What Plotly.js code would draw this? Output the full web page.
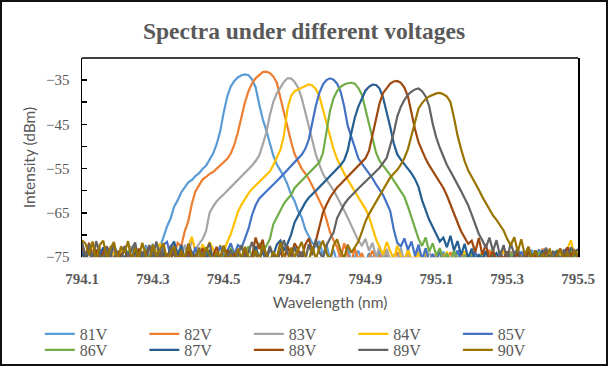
<!DOCTYPE html>
<html>
<head>
<meta charset="utf-8">
<script src="https://cdn.plot.ly/plotly-3.0.1.min.js"></script>
<style>
html,body{margin:0;padding:0;background:#fff;}
#wrap{position:relative;width:608px;height:366px;}
#chart{width:608px;height:366px;}
#frame{position:absolute;left:0;top:0;width:608px;height:366px;box-sizing:border-box;border:2px solid #111;pointer-events:none;}
</style>
</head>
<body>
<div id="wrap"><div id="chart"></div><div id="frame"></div></div>
<script>
// Wavelength grid (nm), 0.01 nm sampling
const wavelength = [
794.10,794.11,794.12,794.13,794.14,794.15,794.16,794.17,794.18,794.19,
794.20,794.21,794.22,794.23,794.24,794.25,794.26,794.27,794.28,794.29,
794.30,794.31,794.32,794.33,794.34,794.35,794.36,794.37,794.38,794.39,
794.40,794.41,794.42,794.43,794.44,794.45,794.46,794.47,794.48,794.49,
794.50,794.51,794.52,794.53,794.54,794.55,794.56,794.57,794.58,794.59,
794.60,794.61,794.62,794.63,794.64,794.65,794.66,794.67,794.68,794.69,
794.70,794.71,794.72,794.73,794.74,794.75,794.76,794.77,794.78,794.79,
794.80,794.81,794.82,794.83,794.84,794.85,794.86,794.87,794.88,794.89,
794.90,794.91,794.92,794.93,794.94,794.95,794.96,794.97,794.98,794.99,
795.00,795.01,795.02,795.03,795.04,795.05,795.06,795.07,795.08,795.09,
795.10,795.11,795.12,795.13,795.14,795.15,795.16,795.17,795.18,795.19,
795.20,795.21,795.22,795.23,795.24,795.25,795.26,795.27,795.28,795.29,
795.30,795.31,795.32,795.33,795.34,795.35,795.36,795.37,795.38,795.39,
795.40,795.41,795.42,795.43,795.44,795.45,795.46,795.47,795.48,795.49,
795.50];

const seriesNames = ["81V","82V","83V","84V","85V","86V","87V","88V","89V","90V"];
const seriesColors = ["#5B9BD5","#ED7D31","#A5A5A5","#FFC000","#4472C4","#70AD47","#255E91","#9E480E","#636363","#997300"];

// Intensity (dBm) per voltage
const v81 = [
-73.2,-75.8,-72.4,-74.9,-76.2,-73.6,-75.1,-72.9,-76.0,-74.3,
-75.6,-73.1,-76.3,-74.7,-72.8,-75.9,-73.8,-76.1,-72.3,-74.6,
-72.0,-75.2,-73.0,
-70.5,-68.1,-66.3,-63.6,-62.2,-60.4,-59.3,-58.1,-57.6,-56.7,
-56.1,-55.1,-54.4,-52.9,-51.6,-49.5,-46.6,-42.3,-38.7,-36.4,
-35.2,-34.4,-33.9,-33.7,-33.9,-34.8,-36.6,-40.4,-43.8,-46.3,
-49.3,-52.1,-54.1,-55.4,-56.8,-58.6,-60.9,-62.3,-64.6,-66.0,
-68.7,-70.3,-71.8,
-72.6,-71.4,-74.8,-72.1,-75.6,-73.4,-76.1,-74.2,-75.7,-73.0,
-76.2,-74.9,-73.6,-75.8,-76.4,-74.1,-75.3,-76.0,-73.7,-75.9,
-74.5,-76.3,-75.0,-73.9,-76.1,-75.4,-74.0,-76.2,-75.7,-73.5,
-76.0,-74.8,-75.5,-76.3,-74.4,-75.9,-73.8,-76.1,-75.2,-74.6,
-76.4,-75.0,-73.7,-75.8,-76.2,-74.3,-75.6,-76.0,-74.9,-73.6,
-75.4,-76.3,-74.7,-75.9,-76.1,-73.9,-75.3,-76.4,-74.5,-75.7,
-76.0,-73.4,-75.5,-76.2,-74.8,-75.1,-76.3,-73.8,-75.6,-74.2,
-76.1,-75.0,-73.3,-75.8,-74.6];
const v82 = [
-72.5,-74.8,-76.1,-73.3,-75.5,-72.8,-76.0,-74.2,-75.7,-73.6,
-76.3,-74.9,-72.7,-75.8,-76.2,-73.9,-75.1,-76.4,-74.0,-75.6,
-72.9,-76.0,-74.5,-73.2,-75.9,-72.4,-74.7,-71.8,-72.6,
-69.2,-66.9,-63.0,-60.2,-58.8,-57.5,-56.9,-56.2,-55.8,-55.1,
-54.2,-53.5,-52.8,-51.6,-49.6,-46.8,-43.4,-40.0,-37.5,-35.7,
-34.6,-33.8,-33.2,-33.1,-33.4,-34.2,-35.6,-39.0,-42.5,-45.3,
-48.9,-51.7,-53.5,-55.0,-56.1,-57.3,-58.9,-60.7,-62.3,-63.9,
-66.5,-69.4,-71.2,
-72.8,-75.4,-71.9,-74.6,-76.2,-73.0,-75.7,-74.1,-76.3,-75.0,
-73.6,-76.1,-74.7,-75.9,-73.2,-76.4,-75.3,-74.0,-76.0,-75.6,
-73.8,-76.2,-74.9,-75.5,-76.3,-73.5,-75.8,-74.4,-76.1,-75.2,
-74.6,-76.0,-73.9,-75.7,-76.4,-74.3,-75.1,-76.2,-73.7,-75.9,
-74.8,-76.3,-75.4,-73.4,-76.0,-75.0,-74.2,-76.1,-75.6,-73.8,
-75.3,-76.2,-74.5,-75.9,-73.6,-76.4,-74.9,-75.5,-73.1,-76.0,
-74.7,-75.8,-73.9,-76.3,-74.1,-72.9,-75.2,-76.1,-74.4];
const v83 = [
-73.4,-75.9,-72.7,-74.8,-76.2,-73.1,-75.4,-76.0,-72.6,-74.9,
-75.7,-73.3,-76.3,-74.4,-72.5,-75.8,-76.1,-73.7,-75.2,-72.9,
-76.0,-74.6,-73.0,-75.6,-76.2,-72.8,-74.3,-73.5,-75.9,-72.2,
-74.7,-71.0,-73.4,-72.1,
-71.0,-69.2,-65.0,-63.6,-62.4,-61.6,-60.7,-60.0,-59.2,-58.4,
-57.6,-56.8,-55.9,-55.1,-54.3,-53.3,-52.1,-49.6,-46.9,-43.0,
-39.9,-38.0,-36.6,-35.4,-34.6,-34.6,-35.4,-36.7,-39.0,-42.3,
-45.6,-48.9,-51.8,-54.1,-56.2,-57.5,-58.6,-59.9,-61.4,-62.8,
-64.5,-66.1,-67.9,-69.6,-71.3,
-72.4,-70.9,-73.6,-71.8,-74.9,-72.6,-75.5,-73.2,-76.1,-74.4,
-75.8,-73.0,-76.2,-74.7,-75.3,-76.0,-73.8,-75.6,-76.3,-74.1,
-75.1,-76.2,-73.5,-75.9,-74.6,-76.1,-75.4,-73.9,-76.3,-74.8,
-75.7,-76.0,-74.2,-75.2,-76.4,-73.7,-75.8,-74.5,-76.1,-75.0,
-73.6,-76.2,-75.5,-74.3,-75.9,-76.3,-73.8,-75.1,-76.0,-74.6,
-75.7,-73.4,-76.1,-74.9,-75.3,-76.2,-74.0,-75.6,-73.2,-76.0,
-74.7,-75.4];
const v84 = [
-73.8,-75.3,-72.4,-76.0,-74.6,-73.1,-75.8,-76.2,-72.9,-74.5,
-75.9,-73.6,-76.1,-74.2,-75.4,-72.7,-76.3,-74.8,-73.3,-75.7,
-76.0,-73.9,-71.9,-74.6,-76.2,-75.1,-73.0,-75.8,-74.3,-76.1,
-72.6,-70.4,-73.5,-75.6,-72.1,-74.0,-71.6,-73.2,-75.4,-72.3,
-73.8,
-71.6,-69.8,-67.4,-64.8,-63.2,-61.8,-60.6,-59.6,-58.8,-58.0,
-57.3,-56.5,-55.7,-54.2,-52.5,-50.8,-47.5,-41.5,-38.6,-37.5,
-37.1,-36.7,-36.3,-36.0,-36.2,-37.0,-38.6,-41.5,-44.8,-47.8,
-50.6,-52.8,-54.6,-56.1,-57.5,-58.7,-60.2,-61.5,-62.8,-64.1,
-65.8,-68.3,-71.0,
-72.8,-74.5,-71.6,-73.9,-75.7,-72.4,-74.8,-76.1,-73.3,-75.5,
-76.2,-74.0,-75.8,-73.6,-76.3,-75.1,-74.4,-76.0,-75.6,-73.8,
-76.1,-74.9,-75.3,-76.4,-73.7,-75.9,-74.6,-76.2,-75.0,-73.9,
-76.0,-75.4,-74.3,-76.3,-75.7,-73.5,-75.2,-76.1,-74.8,-75.9,
-76.2,-74.1,-75.5,-76.0,-73.6,-75.8,-74.7,-76.3,-75.1,-73.8,
-75.6,-74.5,-76.1,-73.2,-71.2,-74.9,-73.4];
const v85 = [
-73.5,-75.8,-72.9,-74.6,-76.2,-73.2,-75.4,-76.0,-74.1,-72.7,
-75.9,-74.3,-76.3,-73.8,-75.2,-72.6,-76.1,-74.8,-73.4,-75.7,
-76.2,-74.0,-75.5,-72.2,-71.6,-74.7,-72.4,-75.3,-73.1,-76.0,
-74.5,-75.8,-72.8,-76.1,-74.2,-73.6,-75.6,-76.3,-74.9,-72.5,
-75.0,-73.7,-71.9,-74.4,-72.3,-73.0,
-71.0,-68.6,-65.5,-63.3,-61.8,-60.9,-60.2,-59.4,-58.7,-57.8,
-57.0,-56.1,-55.2,-54.3,-53.4,-52.7,-51.9,-50.6,-48.5,-44.3,
-40.8,-37.9,-36.0,-35.0,-34.6,-34.9,-35.8,-37.6,-40.9,-45.3,
-47.8,-50.7,-52.7,-53.9,-55.0,-56.1,-57.2,-58.6,-59.9,-61.0,
-62.8,-64.6,-68.8,-71.8,
-72.6,-70.8,-73.4,-71.5,-74.7,-72.2,-75.6,-73.0,-76.1,-74.3,
-75.8,-73.7,-76.2,-74.9,-75.4,-76.0,-73.5,-75.9,-74.6,-76.3,
-75.1,-73.9,-76.1,-74.8,-75.5,-76.2,-74.0,-75.7,-73.6,-76.0,
-75.3,-74.4,-76.3,-75.8,-73.8,-75.0,-76.1,-74.7,-75.6,-73.3,
-76.2,-74.5,-75.9,-73.7,-76.0,-75.2,-74.1,-72.9,-75.4,-73.9,
-74.8];
const v86 = [
-74.2,-76.0,-73.5,-75.6,-76.3,-74.8,-75.2,-73.9,-76.1,-75.4,
-74.0,-76.2,-75.7,-73.6,-75.0,-76.3,-74.5,-75.8,-73.2,-76.0,
-74.9,-75.5,-73.8,-76.2,-75.1,-74.3,-76.1,-75.6,-73.4,-75.9,
-76.3,-74.6,-75.3,-73.7,-76.0,-74.4,-75.8,-76.2,-73.9,-75.1,
-74.7,-76.1,-72.9,-75.4,-73.5,-76.0,-74.1,-72.6,-75.2,-73.3,
-71.8,-74.0,-72.4,
-71.0,-67.6,-65.9,-64.3,-62.9,-61.9,-61.0,-59.4,-58.6,-57.8,
-57.0,-56.2,-55.4,-54.6,-53.6,-51.5,-46.8,-42.0,-39.1,-37.5,
-36.5,-36.0,-35.7,-35.6,-35.8,-36.8,-38.3,-41.6,-45.5,-48.6,
-51.4,-53.3,-54.5,-55.4,-56.5,-57.7,-58.9,-60.1,-61.4,-63.6,
-66.2,-68.6,-70.9,
-72.5,-70.6,-73.8,-71.9,-74.6,-73.0,-75.7,-74.2,-76.1,-73.5,
-75.4,-76.2,-74.8,-75.9,-73.7,-76.0,-75.2,-74.3,-76.3,-75.6,
-73.9,-76.1,-74.7,-75.5,-76.2,-74.0,-75.8,-73.6,-76.0,-75.1,
-74.5,-76.3,-75.7,-73.8,-75.3,-76.1,-74.4,-75.9,-73.4,-76.2,
-74.9,-75.0,-73.2,-75.6,-74.1];
const v87 = [
-74.0,-75.7,-73.3,-76.2,-74.6,-75.1,-72.8,-76.0,-74.9,-75.5,
-73.6,-76.3,-75.0,-74.2,-76.1,-73.7,-75.8,-74.5,-76.2,-75.3,
-73.9,-75.6,-76.0,-74.3,-75.9,-72.7,-71.5,-74.8,-72.3,-75.4,
-76.1,-73.8,-75.2,-76.3,-74.7,-75.7,-73.4,-76.0,-74.1,-75.5,
-76.2,-73.6,-75.8,-74.4,-76.1,-75.0,-73.2,-75.6,-74.9,-72.6,
-75.3,-73.9,-76.0,-73.1,-74.6,-72.2,-71.3,-73.5,-72.0,
-70.0,-67.2,-65.6,-64.0,-62.7,-61.6,-60.7,-60.0,-59.2,-58.4,
-57.5,-56.7,-55.9,-55.1,-54.2,-53.1,-50.9,-47.0,-43.5,-41.0,
-39.0,-37.4,-36.5,-36.0,-36.1,-36.9,-39.0,-42.0,-45.6,-49.3,
-51.8,-53.0,-54.0,-55.0,-56.1,-57.4,-59.2,-62.2,-64.3,-66.6,
-68.2,-70.0,-71.5,
-70.6,-72.8,-70.2,-73.5,-71.4,-74.6,-72.0,-75.3,-73.1,-76.0,
-74.4,-75.7,-73.6,-76.2,-75.0,-74.1,-76.1,-75.5,-73.8,-76.3,
-74.7,-75.2,-76.0,-73.9,-75.8,-74.3,-76.2,-75.4,-73.5,-76.1,
-74.8,-75.6,-73.7,-76.0,-75.1,-74.5,-76.3,-73.9,-75.3];
const v88 = [
-72.4,-74.9,-71.8,-75.6,-73.3,-76.1,-74.0,-72.6,-75.4,-76.2,
-73.7,-75.0,-72.9,-76.0,-74.5,-75.8,-73.1,-76.3,-74.8,-72.3,
-75.5,-76.1,-73.9,-75.2,-74.4,-76.0,-72.8,-75.7,-74.1,-76.2,
-73.5,-75.9,-74.7,-76.3,-73.0,-75.3,-76.0,-74.6,-72.7,-75.8,
-76.2,-73.4,-75.1,-74.3,-76.1,-75.6,-73.8,-76.0,-74.9,-70.6,
-73.2,-71.1,-75.4,-76.2,-74.0,-75.7,-73.6,-76.1,-72.5,-74.8,
-71.9,-73.3,-75.5,-72.2,-70.8,-73.6,-71.4,
-68.0,-65.0,-63.2,-61.6,-60.4,-59.3,-58.5,-57.7,-56.8,-56.0,
-55.2,-54.4,-53.6,-52.7,-51.0,-47.5,-43.4,-40.2,-37.9,-36.7,
-35.8,-35.3,-35.2,-35.6,-36.7,-38.7,-42.6,-46.1,-49.1,-51.0,
-52.8,-54.3,-55.6,-56.8,-58.0,-59.4,-61.1,-63.3,-65.2,-67.2,
-69.2,-70.5,-72.0,
-71.3,-73.9,-70.7,-74.5,-72.1,-75.6,-73.4,-76.2,-74.7,-75.3,
-73.8,-76.0,-75.1,-74.2,-76.3,-75.7,-73.6,-75.9,-74.5,-76.1,
-75.0,-73.7,-75.8,-76.2,-74.3,-73.1,-75.4,-72.8,-74.6,-73.5,
-75.2];
const v89 = [
-71.6,-74.8,-72.2,-75.9,-71.4,-74.3,-76.1,-72.7,-75.2,-71.9,
-74.6,-76.2,-72.5,-75.0,-73.3,-71.7,-75.6,-73.8,-76.0,-72.4,
-74.9,-71.5,-75.3,-73.6,-76.1,-72.8,-74.5,-76.2,-73.1,-75.7,
-72.0,-74.2,-76.0,-72.9,-75.4,-73.7,-71.8,-75.8,-74.0,-76.3,
-72.6,-75.1,-73.4,-76.0,-74.7,-72.3,-75.5,-73.9,-71.6,-74.4,
-76.1,-73.0,-75.6,-72.5,-74.8,-76.2,-73.5,-71.2,-74.1,-75.9,
-72.7,-75.0,-73.8,-76.0,-72.1,-74.6,-71.0,-73.9,-75.3,-72.4,
-70.8,
-69.5,-66.2,-64.5,-63.1,-62.0,-61.1,-60.3,-59.5,-58.7,-58.0,
-57.2,-56.4,-55.6,-54.8,-53.7,-52.6,-49.8,-46.9,-43.2,-41.0,
-39.5,-38.3,-37.6,-37.1,-36.9,-37.5,-38.7,-40.9,-44.9,-48.0,
-50.3,-52.4,-54.2,-55.6,-57.0,-58.4,-60.1,-61.7,-63.3,-65.4,
-67.5,-69.8,-71.2,
-72.9,-70.6,-73.7,-71.2,-74.8,-72.3,-75.6,-71.8,-74.4,-73.0,
-76.0,-74.6,-72.7,-75.3,-73.5,-76.1,-74.2,-72.9,-75.7,-73.8,
-74.5,-76.2,-73.3,-75.0,-72.8,-74.1,-73.2];
const v90 = [
-71.2,-72.0,-74.6,-71.5,-75.8,-72.3,-71.3,-75.2,-73.0,-71.6,
-75.9,-72.6,-74.1,-71.4,-76.0,-72.9,-75.3,-71.8,-74.5,-76.2,
-72.2,-75.0,-73.4,-71.9,-75.7,-74.0,-72.5,-76.1,-73.6,-75.4,
-72.1,-74.8,-76.0,-73.2,-75.5,-72.8,-74.3,-76.2,-73.9,-75.1,
-72.4,-75.8,-74.6,-76.0,-73.1,-75.3,-72.7,-74.9,-76.1,-73.5,
-75.6,-72.3,-74.2,-76.0,-73.8,-75.2,-71.7,-74.5,-76.2,-72.9,
-75.0,-73.4,-71.6,-74.7,-76.1,-72.6,-75.4,-73.0,-71.3,-74.1,
-75.7,-72.4,-71.0,-73.6,-75.3,-72.2,-74.0,-72.8,
-71.5,-69.3,-67.0,-65.3,-63.9,-62.5,-61.2,-59.9,-58.2,-57.0,
-56.1,-55.3,-54.1,-52.6,-50.6,-47.6,-44.2,-41.4,-40.2,-39.3,
-38.7,-38.3,-38.0,-37.9,-38.2,-38.7,-40.0,-43.5,-47.5,-50.6,
-53.3,-55.4,-56.8,-58.2,-59.8,-61.4,-62.9,-64.4,-65.6,-66.6,
-67.8,-69.0,-70.9,
-72.4,-70.5,-73.8,-71.0,-74.6,-72.7,-75.3,-73.5,-76.0,-74.2,
-75.5,-73.1,-76.1,-74.8,-73.4,-75.7,-74.0,-76.2,-73.6,-75.0];

const yTickVals = [-75,-65,-55,-45,-35];
const xTickVals = [794.1,794.3,794.5,794.7,794.9,795.1,795.3,795.5];
const xTickText = ["794.1","794.3","794.5","794.7","794.9","795.1","795.3","795.5"];

const allSeries = [v81,v82,v83,v84,v85,v86,v87,v88,v89,v90];
const bad = allSeries.map((s,i)=>[seriesNames[i], s.length]).filter(p=>p[1]!==wavelength.length);
if (bad.length) throw new Error("length mismatch: " + JSON.stringify(bad));

const traces = allSeries.map((s,i)=>({
  type:'scatter', mode:'lines', x:wavelength, y:s, name:seriesNames[i],
  line:{color:seriesColors[i], width:2.2},
  legend: i < 5 ? 'legend' : 'legend2',
  hoverinfo:'skip'
}));

const gray = '#595959';
const legendCommon = {
  orientation:'h', xanchor:'left', yanchor:'middle', x:-0.085,
  entrywidth:59.5, entrywidthmode:'pixels', traceorder:'normal',
  font:{family:'Liberation Serif, Times New Roman, serif', size:16, color:gray},
  bgcolor:'rgba(0,0,0,0)', itemwidth:30, tracegroupgap:0
};

const layout = {
  width:608, height:366,
  margin:{l:82, r:30, t:58, b:109, pad:0, autoexpand:false},
  paper_bgcolor:'#ffffff', plot_bgcolor:'#ffffff',
  title:{text:'Spectra under different voltages', x:0.5, xref:'container', xanchor:'center', y:0.915, yref:'container', yanchor:'middle',
    font:{family:'Liberation Serif, Times New Roman, serif', size:23.5, color:gray, weight:'bold'}},
  xaxis:{range:[794.1,795.5], tickvals:xTickVals, ticktext:xTickText, ticks:'', showgrid:false, zeroline:false,
    showline:true, linecolor:'#d9d9d9', linewidth:1, ticklabelstandoff:8,
    tickfont:{family:'Liberation Serif, Times New Roman, serif', size:15, color:gray, weight:'bold'},
    title:{text:'Wavelength (nm)', standoff:11, font:{family:'Lato, Carlito, sans-serif', size:15.5, color:gray}}},
  yaxis:{range:[-75,-30], tickvals:yTickVals, ticks:'inside', ticklen:5, tickwidth:1.5, tickcolor:'#000',
    minor:{tickvals:[-70,-60,-50,-40,-30], ticks:'inside', ticklen:5, tickwidth:1.5, tickcolor:'#000'},
    showgrid:false, zeroline:false, showline:true, mirror:true, linecolor:'#000', linewidth:1.5,
    ticklabelstandoff:8,
    tickfont:{family:'Liberation Serif, Times New Roman, serif', size:15, color:gray},
    title:{text:'Intensity (dBm)', standoff:6, font:{family:'Lato, Carlito, sans-serif', size:15.5, color:gray}}},
  shapes:[{type:'line', xref:'paper', yref:'paper', x0:0, x1:1, y0:1, y1:1, line:{color:'#000', width:1.5}}],
  legend:Object.assign({}, legendCommon, {y:-0.387}),
  legend2:Object.assign({}, legendCommon, {y:-0.467}),
  showlegend:true
};

Plotly.newPlot('chart', traces, layout, {staticPlot:true, displayModeBar:false});
</script>
</body>
</html>
